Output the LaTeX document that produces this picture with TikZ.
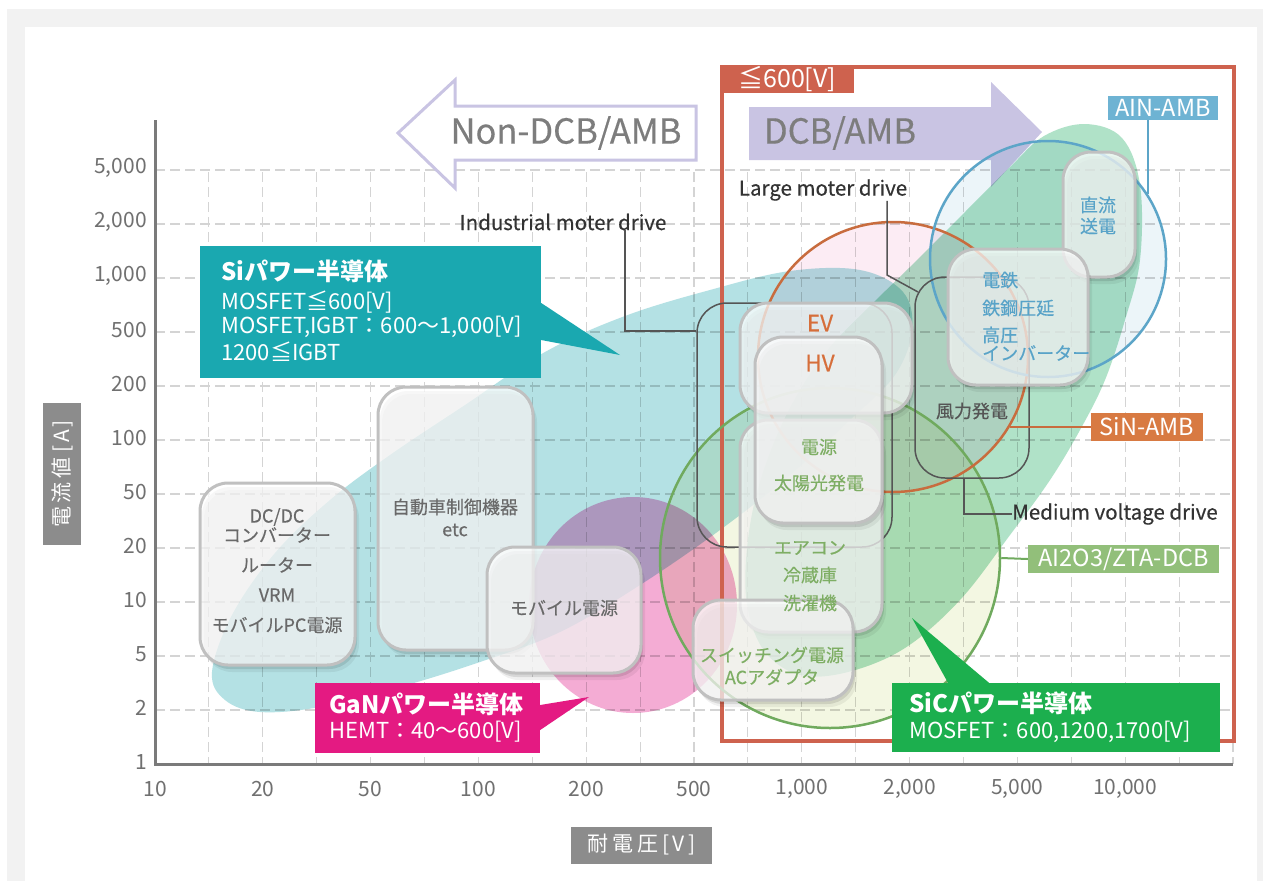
\documentclass[tikz,border=0pt]{standalone}
\usepackage{fontspec}
\setmainfont{Noto Sans CJK JP}
\newfontfamily\medfont{Noto Sans CJK JP}[FakeBold=0.4]
\usetikzlibrary{calc,shadows}
\newcommand\myfs[1]{\fontsize{#1}{#1}\selectfont}
\definecolor{bgpanel}{RGB}{242,242,242}
\definecolor{gridc}{RGB}{212,212,212}
\definecolor{axisc}{RGB}{122,122,122}
\definecolor{tickc}{RGB}{112,112,112}
\definecolor{tealfill}{RGB}{180,225,228}
\definecolor{pinkfill}{RGB}{244,172,212}
\definecolor{mintfill}{RGB}{176,226,200}
\definecolor{sicfill}{RGB}{243,247,226}
\definecolor{sinfill}{RGB}{252,236,244}
\definecolor{ainfill}{RGB}{236,245,249}
\definecolor{lav}{RGB}{201,196,227}
\definecolor{redc}{RGB}{206,98,78}
\definecolor{sicline}{RGB}{112,170,94}
\definecolor{sinline}{RGB}{200,108,62}
\definecolor{ainline}{RGB}{92,165,200}
\definecolor{sitag}{RGB}{26,168,176}
\definecolor{gantag}{RGB}{228,26,130}
\definecolor{sictag}{RGB}{28,175,78}
\definecolor{sintag}{RGB}{216,122,66}
\definecolor{altag}{RGB}{146,191,122}
\definecolor{aintag}{RGB}{110,179,211}
\definecolor{orangetxt}{RGB}{214,110,58}
\definecolor{greentxt}{RGB}{126,174,100}
\definecolor{bluetxt}{RGB}{88,163,200}
\definecolor{boxtxt}{RGB}{105,105,105}
\definecolor{boxline}{RGB}{192,192,192}
\definecolor{framec}{RGB}{85,85,85}
\definecolor{titlebg}{RGB}{140,140,140}
\definecolor{arrowtxt}{RGB}{125,125,125}
\tikzset{
  gridline/.style={draw=gridc, line width=1.1pt, dash pattern=on 10pt off 5pt},
  axisline/.style={draw=axisc, line width=3pt},
  ticklab/.style={text=tickc, font=\myfs{21}, inner sep=0pt},
  appbox/.style={draw=boxline, line width=3pt, fill=white, fill opacity=0.72, rounded corners=28pt, inner sep=0pt,
     drop shadow={shadow xshift=2pt, shadow yshift=-4pt, opacity=0.10, fill=black},
     drop shadow={shadow xshift=4pt, shadow yshift=-7pt, opacity=0.06, fill=black}},
  boxtext/.style={text=boxtxt, font=\medfont\myfs{18}, inner sep=0pt},
  orangebt/.style={text=orangetxt, font=\medfont\myfs{22.5}, inner sep=0pt},
  greenbt/.style={text=greentxt, font=\medfont\myfs{18}, inner sep=0pt},
  bluebt/.style={text=bluetxt, font=\medfont\myfs{18}, inner sep=0pt},
  groupframe/.style={draw=framec, line width=1.5pt, rounded corners=30pt, inner sep=0pt},
  leader/.style={draw=framec, line width=1.5pt},
  leadtext/.style={text=black!80, font=\medfont\myfs{20.5}, inner sep=0pt},
  tagbox/.style={inner sep=0pt, text=white, font=\myfs{23.5}},
  tagtitle/.style={text=white, font=\bfseries\myfs{24}, inner sep=0pt, anchor=west},
  tagline/.style={text=white, font=\myfs{22}, inner sep=0pt, anchor=west},
  mult/.style={blend mode=multiply},
  ringline/.style={circle, line width=2.5pt, inner sep=0pt},
}
\begin{document}
\begin{tikzpicture}[x=1pt,y=-1pt]
\useasboundingbox (0,0) rectangle (1263,881);
% page background
\fill[white] (0,0) rectangle (1263,881);
\fill[bgpanel] (7,9) rectangle (1263,881);
\fill[white] (25,27) rectangle (1257,881);

% grid
\foreach \j in {1,...,20} \draw[gridline] (155+53.9*\j,172) -- (155+53.9*\j,764);
\foreach \k in {1,...,11} \draw[gridline] (155,764-54*\k) -- (1233,764-54*\k);

% axes
\coordinate (ytop) at (155,120);
\coordinate (origin) at (155,764);
\coordinate (xend) at (1233,764);
\draw[axisline] (ytop) -- (origin) -- (xend);
\foreach \lab [count=\k from 0] in {1,2,5,10,20,50,100,200,500,{1,000},{2,000},{5,000}}
  \node[ticklab, anchor=east] (ylab\k) at (147,762-54*\k) {\lab};
\foreach \lab [count=\k from 0] in {10,20,50,100,200,500,{1,000},{2,000},{5,000},{10,000}}
  \node[ticklab] (xlab\k) at (155+107.8*\k,789) {\lab};

% axis titles
\node[fill=titlebg, text=white, rotate=90, minimum width=142pt, minimum height=38pt, inner sep=0pt, font=\myfs{21}] (ytitle) at (62,474) {電\hspace{4pt}流\hspace{4pt}値\hspace{4pt}[\hspace{3pt}A\hspace{3pt}]};
\node[fill=titlebg, text=white, minimum width=141pt, minimum height=37pt, inner sep=0pt, font=\myfs{21}] (xtitle) at (641.5,845) {耐\hspace{4pt}電\hspace{4pt}圧\hspace{4pt}[\hspace{3pt}V\hspace{3pt}]};

% top arrows
\draw[draw=lav, line width=3pt, fill=white] (696,106) -- (455,106) -- (455,80) -- (398,133) -- (455,188) -- (455,160) -- (696,160) -- cycle;
\node[text=arrowtxt, font=\medfont\myfs{34.5}, inner sep=0pt] (nondcb) at (566,133) {Non-DCB/AMB};
\fill[lav] (749,107) -- (991,107) -- (991,82) -- (1042,132) -- (991,187) -- (991,160) -- (749,160) -- cycle;
\node[text=arrowtxt, font=\medfont\myfs{34.5}, inner sep=0pt] (dcb) at (840,133) {DCB/AMB};

% colour regions (multiplied)
\fill[tealfill, mult] plot[smooth cycle, tension=0.6] coordinates {
  (212,672) (232,615) (275,553) (330,500) (390,455) (465,405) (545,352) (625,316) (710,290)
  (790,271) (860,270) (903,292) (912,330) (895,375) (850,420) (790,475) (720,530) (640,585)
  (560,632) (480,662) (400,687) (320,707) (260,712) (225,700)};
\fill[pinkfill, mult] (633,605) ellipse [x radius=104, y radius=108];
\fill[sicfill, mult] (830,558) circle [radius=170];
\fill[sinfill, mult] (893,357) circle [radius=135];
\fill[ainfill, mult] (1048,259) circle [radius=118];
\fill[mintfill, mult] plot[smooth cycle, tension=0.6] coordinates {
  (1085,124) (1122,138) (1140,185) (1140,260) (1125,320) (1105,380) (1080,430) (1050,480)
  (1010,535) (960,600) (905,648) (848,672) (800,675) (765,652) (748,610) (746,560) (755,500)
  (775,440) (800,390) (830,347) (873,303) (910,267) (960,217) (1010,167) (1044,136)};

% 600V frame
\draw[redc, line width=4pt] (722,67) rectangle (1234,741);
\node[fill=redc, text=white, anchor=north west, minimum width=134pt, minimum height=28pt, inner sep=0pt, font=\myfs{25}] (vlab) at (720,65) {≦600[V]};

% ring outlines
\node[ringline, draw=sicline, minimum size=340pt] (sic) at (830,558) {};
\node[ringline, draw=sinline, minimum size=270pt] (sin) at (893,357) {};
\node[ringline, draw=ainline, minimum size=236pt] (ain) at (1048,259) {};

% application group frames
\node[groupframe, minimum width=195pt, minimum height=244pt] (indframe) at (794.5,425) {};
\node[groupframe, minimum width=114pt, minimum height=201pt] (medframe) at (972,377.5) {};

% leaders
\node[leadtext] (indlab) at (563,222) {Industrial moter drive};
\coordinate (indbend) at (625,331);
\draw[leader] (indlab.south -| indbend) -- (indbend) -- (indbend -| indframe.west);
\node[leadtext] (lglab) at (823,190) {Large moter drive};
\coordinate (lgbend) at (887,275);
\coordinate (lgend) at (918,292);
\draw[leader] (lglab.south -| lgbend) -- (lgbend) -- (lgend);
\node[leadtext, anchor=west] (mvlab) at (1012,514) {Medium voltage drive};
\coordinate (mvbend) at (964,514);
\draw[leader] (medframe.south -| mvbend) -- (mvbend) -- (mvlab.west);
\node[text=framec, font=\medfont\myfs{18}, inner sep=0pt] (wind) at (972,411) {風力発電};

% application boxes
\node[appbox, minimum width=155pt, minimum height=182pt] (dcbox) at (277.5,574) {};
\node[appbox, minimum width=155pt, minimum height=263pt] (carbox) at (455.5,518.5) {};
\node[appbox, minimum width=154pt, minimum height=126pt] (mobbox) at (564,610) {};
\node[appbox, minimum width=172pt, minimum height=110pt] (evbox) at (826,358) {};
\node[appbox, minimum width=142pt, minimum height=212pt] (acbox) at (811,526) {};
\node[appbox, minimum width=127pt, minimum height=186pt] (hvbox) at (818.5,430) {};
\node[appbox, minimum width=160pt, minimum height=100pt] (swbox) at (773,650) {};
\node[appbox, minimum width=72pt, minimum height=125pt] (dcpbox) at (1099,214.5) {};
\node[appbox, minimum width=140pt, minimum height=136pt] (railbox) at (1018,317) {};

% box texts
\node[boxtext] (t1) at (277,517) {DC/DC};
\node[boxtext] (t2) at (277,535) {コンバーター};
\node[boxtext] (t3) at (277,565) {ルーター};
\node[boxtext] (t4) at (277,595) {VRM};
\node[boxtext] (t5) at (277,625) {モバイルPC電源};
\node[boxtext] (t6) at (455,507) {自動車制御機器};
\node[boxtext] (t7) at (455,530) {etc};
\node[boxtext] (t8) at (564,608) {モバイル電源};
\node[orangebt] (t9) at (820,323) {EV};
\node[orangebt] (t10) at (820,363) {HV};
\node[greenbt] (t11) at (819,447) {電源};
\node[greenbt] (t12) at (819,483) {太陽光発電};
\node[greenbt] (t13) at (810,548) {エアコン};
\node[greenbt] (t14) at (810,575) {冷蔵庫};
\node[greenbt] (t15) at (810,603) {洗濯機};
\node[greenbt] (t16) at (772,655) {スイッチング電源};
\node[greenbt] (t17) at (772,677) {ACアダプタ};
\node[bluebt] (t18) at (1098,205) {直流};
\node[bluebt] (t19) at (1098,226) {送電};
\node[bluebt, anchor=west] (t20) at (982,280) {電鉄};
\node[bluebt, anchor=west] (t21) at (982,308) {鉄鋼圧延};
\node[bluebt, anchor=west] (t22) at (982,335) {高圧};
\node[bluebt, anchor=west] (t23) at (982,353) {インバーター};

% material tags
\node[tagbox, fill=aintag, minimum width=110pt, minimum height=24pt] (ainlab) at (1163,108) {AIN-AMB};
\draw[ainline, line width=2pt] (ain.33) -- (ain.33 |- ainlab.south);
\node[tagbox, fill=sintag, minimum width=112pt, minimum height=28pt] (sinlab) at (1147,427) {SiN-AMB};
\draw[sinline, line width=2pt] (sin.-31.5) -- (sin.-31.5 -| sinlab.west);
\node[tagbox, fill=altag, minimum width=191pt, minimum height=28pt] (allab) at (1123.5,559) {AI2O3/ZTA-DCB};
\draw[sicline, line width=2pt] (sic.east) -- (allab.west);

% semiconductor callouts
\node[fill=sitag, minimum width=341pt, minimum height=132pt, inner sep=0pt] (silab) at (370.5,312) {};
\fill[sitag] (silab.east |- 0,303) -- (620,355) -- (silab.east |- 0,340) -- cycle;
\node[tagtitle] (sit) at (221,271) {Siパワー半導体};
\node[tagline] (si1) at (221,302) {MOSFET≦600[V]};
\node[tagline] (si2) at (221,327) {MOSFET,IGBT：600～1,000[V]};
\node[tagline] (si3) at (221,352) {1200≦IGBT};

\node[fill=gantag, minimum width=225pt, minimum height=70pt, inner sep=0pt] (ganlab) at (427.5,718) {};
\fill[gantag] (ganlab.east |- 0,705) -- (589,697) -- (ganlab.east |- 0,730) -- cycle;
\node[tagtitle] (gant) at (329,704) {GaNパワー半導体};
\node[tagline] (gan1) at (329,732) {HEMT：40～600[V]};

\node[fill=sictag, minimum width=328pt, minimum height=69pt, inner sep=0pt] (siclab) at (1056,717.5) {};
\fill[sictag] (siclab.north -| 948,0) -- (912,618) -- (siclab.north -| 989,0) -- cycle;
\node[tagtitle] (sict) at (909,703) {SiCパワー半導体};
\node[tagline] (sic1) at (909,732) {MOSFET：600,1200,1700[V]};
\end{tikzpicture}
\end{document}
